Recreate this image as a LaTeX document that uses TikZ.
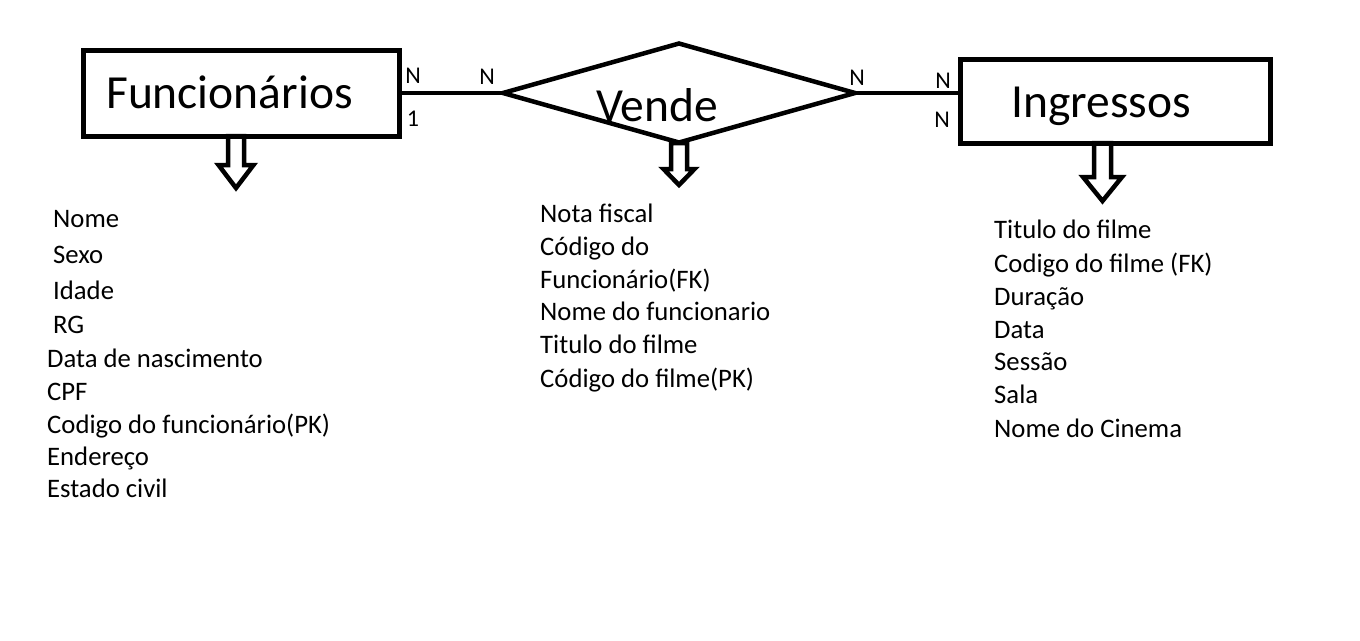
\documentclass[tikz,border=0pt]{standalone}
\usepackage{fontspec}
\setmainfont{Carlito}
\usetikzlibrary{shapes.geometric,calc}

\tikzset{
  entity/.style={draw, line width=5pt, inner sep=0pt, outer sep=0pt},
  relation/.style={draw, diamond, line width=4.5pt, inner sep=0pt, outer sep=0pt,
    minimum width=352pt, minimum height=99pt},
  title/.style={anchor=base west, inner sep=0pt, font=\fontsize{47.5}{56}\selectfont},
  attr/.style={anchor=base west, inner sep=0pt, font=\fontsize{26.7}{32.5}\selectfont},
  card/.style={anchor=base, inner sep=0pt, font=\fontsize{24}{28}\selectfont},
  conn/.style={line width=4.5pt},
  hollowarrow/.style={line width=4.5pt, line join=miter}
}

\begin{document}
\begin{tikzpicture}[x=1pt, y=-1pt]
    \useasboundingbox (0,0) rectangle (1360,640);

    % entities and relation
    \node[entity, minimum width=316pt, minimum height=86pt] (func) at (241,93) {};
    \node[relation] (vende) at (679,93) {};
    \node[entity, minimum width=310pt, minimum height=84pt] (ingr) at (1115,101) {};

    \node[title] (funcT) at (106,108) {Funcionários};
    \node[title] (vendeT) at (596,121) {Vende};
    \node[title] (ingrT) at (1011,117) {Ingressos};

    % connectors
    \draw[conn] (func.east) -- (vende.west);
    \draw[conn] (vende.east) -- (vende.east -| ingr.west);

    % cardinalities
    \foreach \x/\y/\c [count=\i] in {413/83/N, 413/126/1, 487/84/N, 857/85/N, 943/88/N, 942/127/N}
     \node[card] (card\i) at (\x,\y) {\c};

    % block arrows
    \foreach \x/\top/\head/\tip/\sw/\hw in
    {236/136/165/188/8/17.5, 679/143/169/185/8/15.5, 1102.5/143/177/201/8.5/19.5} {
     \draw[hollowarrow] (\x-\sw,\top) -- (\x-\sw,\head) -- (\x-\hw,\head) -- (\x,\tip)
       -- (\x+\hw,\head) -- (\x+\sw,\head) -- (\x+\sw,\top) -- cycle;
    }

    % attributes
    \foreach \x/\y/\t [count=\i] in
    {53/227/Nome, 53/263/Sexo, 53/299/Idade, 53/333/RG, 47/367/Data de nascimento,
     47/400/CPF, 47/433/{Codigo do funcionário(PK)}, 47/465/Endereço, 47/497/Estado civil} {
     \node[attr] (fa\i) at (\x,\y) {\t};
    }
    \foreach \x/\y/\t [count=\i] in
    {540/222/Nota fiscal, 540/255/Código do, 540/288/{Funcionário(FK)},
     540/320/Nome do funcionario, 540/353/Titulo do filme, 540/387/{Código do filme(PK)}} {
     \node[attr] (va\i) at (\x,\y) {\t};
    }
    \foreach \x/\y/\t [count=\i] in
    {994/238/Titulo do filme, 994/272/{Codigo do filme (FK)}, 994/305/Duração,
     994/338/Data, 994/370/Sessão, 994/403/Sala, 994/437/Nome do Cinema} {
     \node[attr] (ia\i) at (\x,\y) {\t};
    }
\end{tikzpicture}
\end{document}
